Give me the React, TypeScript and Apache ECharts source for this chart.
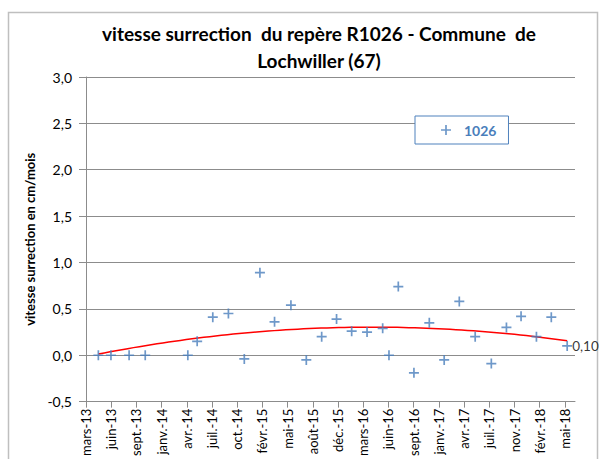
import React, { useEffect, useRef } from "react";
import * as echarts from "echarts";

const AXIS_START = "2013-03-08";
const TICK_STEP_DAYS = 100;
const AXIS_END_DAYS = 1940;

const tickLabels = [
  "mars-13", "juin-13", "sept.-13", "janv.-14", "avr.-14", "juil.-14", "oct.-14",
  "févr.-15", "mai-15", "août-15", "déc.-15", "mars-16", "juin-16", "sept.-16",
  "janv.-17", "avr.-17", "juil.-17", "nov.-17", "févr.-18", "mai-18",
];

const dates = [
  "2013-04-26", "2013-06-15", "2013-08-26", "2013-10-29", "2014-04-16", "2014-05-23",
  "2014-07-24", "2014-09-24", "2014-11-26", "2015-01-27", "2015-03-26", "2015-05-30",
  "2015-07-30", "2015-09-29", "2015-11-27", "2016-01-26", "2016-03-27", "2016-05-28",
  "2016-06-22", "2016-07-29", "2016-09-29", "2016-11-29", "2017-01-27", "2017-03-28",
  "2017-05-30", "2017-08-02", "2017-10-01", "2017-11-28", "2018-01-28", "2018-03-28",
  "2018-05-30",
];

const values = [
  0, 0, 0, 0, 0, 0.15,
  0.41, 0.45, -0.04, 0.89, 0.36, 0.54,
  -0.05, 0.2, 0.39, 0.26, 0.25, 0.29,
  0.0, 0.74, -0.19, 0.35, -0.05, 0.58,
  0.2, -0.09, 0.3, 0.42, 0.2, 0.41,
  0.1,
];

const seriesName = "1026";
const titleLines = ["vitesse surrection  du repère R1026 - Commune  de", "Lochwiller (67)"];
const yAxisTitle = "vitesse surrection en cm/mois";

const DAY = 86400000;
const toDays = (d: string) => (Date.parse(d) - Date.parse(AXIS_START)) / DAY;

function quadFit(xs: number[], ys: number[]) {
  // least squares y = a + b x + c x^2 (Excel polynomial trendline, order 2)
  const n = xs.length;
  let s0 = n, s1 = 0, s2 = 0, s3 = 0, s4 = 0, t0 = 0, t1 = 0, t2 = 0;
  for (let i = 0; i < n; i++) {
    const x = xs[i] / 1000, y = ys[i];
    s1 += x; s2 += x * x; s3 += x * x * x; s4 += x * x * x * x;
    t0 += y; t1 += x * y; t2 += x * x * y;
  }
  const M = [
    [s0, s1, s2, t0],
    [s1, s2, s3, t1],
    [s2, s3, s4, t2],
  ];
  for (let i = 0; i < 3; i++) {
    let p = i;
    for (let r = i + 1; r < 3; r++) if (Math.abs(M[r][i]) > Math.abs(M[p][i])) p = r;
    [M[i], M[p]] = [M[p], M[i]];
    for (let r = 0; r < 3; r++) {
      if (r === i) continue;
      const f = M[r][i] / M[i][i];
      for (let c = i; c < 4; c++) M[r][c] -= f * M[i][c];
    }
  }
  const a = M[0][3] / M[0][0], b = M[1][3] / M[1][1], c = M[2][3] / M[2][2];
  return (x: number) => a + b * (x / 1000) + c * (x / 1000) * (x / 1000);
}

const PLUS = "path://M0,4.15H10V5.85H0Z M4.15,0H5.85V10H4.15Z";

export default function App() {
  const ref = useRef<HTMLDivElement>(null);
  useEffect(() => {
    if (!ref.current) return;
    const chart = echarts.init(ref.current, null, { renderer: "svg" });
    const xs = dates.map(toDays);
    const fit = quadFit(xs, values);
    const x0 = xs[0], x1 = xs[xs.length - 1];
    const trend: number[][] = [];
    const N = 80;
    for (let i = 0; i <= N; i++) {
      const x = x0 + ((x1 - x0) * i) / N;
      trend.push([x, fit(x)]);
    }
    const font = "Lato";
    const pts = xs.map((x, i) => {
      const item: any = { value: [x, values[i]] };
      if (i === xs.length - 1) {
        item.label = {
          show: true,
          position: "right",
          distance: 0,
          formatter: values[i].toFixed(2).replace(".", ","),
          color: "#000",
          fontSize: 13.5,
          fontFamily: font,
        };
      }
      return item;
    });
    const ticks = tickLabels.map((_, i) => i * TICK_STEP_DAYS);
    chart.setOption({
      animation: false,
      textStyle: { fontFamily: font },
      grid: { left: 86, right: 25, top: 77, bottom: 57, containLabel: false },
      graphic: [
        {
          type: "rect",
          shape: { x: 8.5, y: 12.5, width: 589, height: 470 },
          style: { fill: "none", stroke: "#bfbfbf", lineWidth: 1.5 },
          silent: true,
        },
        {
          type: "text",
          x: 319,
          y: 33,
          style: {
            text: titleLines[0],
            align: "center",
            verticalAlign: "middle",
            font: `bold 19px ${font}`,
            fill: "#000",
          },
        },
        {
          type: "text",
          x: 319,
          y: 60,
          style: {
            text: titleLines[1],
            align: "center",
            verticalAlign: "middle",
            font: `bold 19px ${font}`,
            fill: "#000",
          },
        },
      ],
      legend: {
        data: [seriesName],
        left: 415,
        top: 116,
        orient: "vertical",
        padding: [7, 12, 7, 26],
        itemWidth: 10,
        itemHeight: 10,
        itemGap: 0,
        backgroundColor: "#fff",
        borderColor: "#4f81bd",
        borderWidth: 1,
        borderRadius: 0,
        textStyle: { color: "#4a7ebb", fontWeight: "bold", fontSize: 14, fontFamily: font, padding: [0, 0, 0, 8] },
      },
      xAxis: {
        type: "value",
        min: 0,
        max: AXIS_END_DAYS,
        axisLine: { show: true, onZero: false, lineStyle: { color: "#8c8c8c", width: 1 } },
        axisTick: { show: true, length: 6, customValues: ticks, lineStyle: { color: "#8c8c8c" } },
        splitLine: { show: false },
        axisLabel: {
          customValues: ticks,
          rotate: 90,
          margin: 7,
          fontSize: 13,
          color: "#000",
          fontFamily: font,
          formatter: (v: number) => tickLabels[Math.round(v / TICK_STEP_DAYS)] ?? "",
        },
      },
      yAxis: {
        type: "value",
        min: -0.5,
        max: 3,
        interval: 0.5,
        name: yAxisTitle,
        nameLocation: "middle",
        nameGap: 50,
        nameTextStyle: { fontWeight: "bold", fontSize: 13, color: "#000", fontFamily: font },
        axisLine: { show: true, lineStyle: { color: "#8c8c8c", width: 1 } },
        axisTick: { show: true, length: 7, lineStyle: { color: "#8c8c8c" } },
        splitLine: { show: true, lineStyle: { color: "#8c8c8c", width: 1 } },
        axisLabel: {
          margin: 14,
          fontSize: 14,
          color: "#000",
          fontFamily: font,
          formatter: (v: number) => v.toFixed(1).replace(".", ","),
        },
      },
      series: [
        {
          name: "trend",
          type: "line",
          data: trend,
          showSymbol: false,
          symbol: "none",
          lineStyle: { color: "#ff0000", width: 1.5 },
          z: 3,
          silent: true,
        },
        {
          name: seriesName,
          type: "scatter",
          data: pts,
          symbol: PLUS,
          symbolSize: 10,
          itemStyle: { color: "#4a7ebb" },
          z: 4,
        },
      ],
    });
    return () => chart.dispose();
  }, []);
  return (
    <div
      ref={ref}
      style={{ position: "absolute", left: 0, top: 0, width: 600, height: 459 }}
    />
  );
}
